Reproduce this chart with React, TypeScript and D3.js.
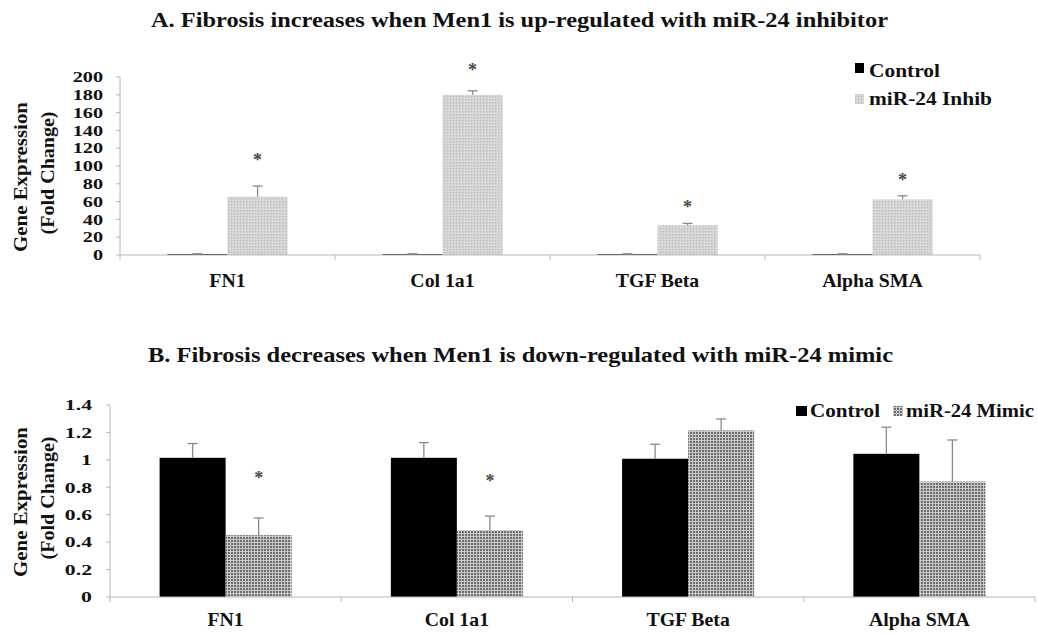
import React from "react";
import * as d3 from "d3";

// Genes measured in both experiments
const genes = ["FN1", "Col 1a1", "TGF Beta", "Alpha SMA"];

// Panel A: miR-24 inhibitor (fold change)
const inhibControl = [1, 1, 1, 1];
const inhibControlErr = [0.4, 0.4, 0.4, 0.4];
const inhibValues = [65.5, 180, 33.5, 62.5];
const inhibErr = [12, 4.5, 2, 4];
const inhibStarAt = [110, 211, 57, 88];
const inhibTicks = [0, 20, 40, 60, 80, 100, 120, 140, 160, 180, 200];

// Panel B: miR-24 mimic (fold change)
const mimicControl = [1.015, 1.015, 1.008, 1.044];
const mimicControlErr = [0.104, 0.111, 0.106, 0.194];
const mimicValues = [0.451, 0.487, 1.215, 0.842];
const mimicErr = [0.125, 0.103, 0.083, 0.303];
const mimicStarAt: (number | null)[] = [0.888, 0.871, null, null];
const mimicTicks = [0, 0.2, 0.4, 0.6, 0.8, 1, 1.2, 1.4];

const FONT = "Liberation Serif, Times New Roman, Times, DejaVu Serif, serif";
const AXIS = "#b8b8b8";
const ERR = "#8a8a8a";

type PanelProps = {
  title: string;
  titleY: number;
  titleSpan: [number, number];
  xRange: [number, number];
  yRange: [number, number];
  yMax: number;
  ticks: number[];
  tickX: number;
  tickStretch: number;
  control: number[];
  controlErr: number[];
  values: number[];
  err: number[];
  stars: (number | null)[];
  seriesFill: string;
  padInner: number;
  padOuter: number;
  labelX: [number, number];
  labelMid: number;
  catLabelY: number;
  legend: React.ReactNode;
};

function Panel(p: PanelProps) {
  const x = d3
    .scaleBand<string>()
    .domain(genes)
    .range(p.xRange)
    .paddingInner(p.padInner)
    .paddingOuter(p.padOuter);
  const sub = d3
    .scaleBand<string>()
    .domain(["control", "treated"])
    .range([0, x.bandwidth()]);
  const y = d3.scaleLinear().domain([0, p.yMax]).range(p.yRange);
  const step = x.step();
  const x0 = p.xRange[0];
  const bw = sub.bandwidth();

  const errBar = (cx: number, v: number, e: number, key: string) => (
    <g key={key} stroke={ERR} strokeWidth={1.3}>
      <line x1={cx} x2={cx} y1={y(v)} y2={y(v + e)} />
      <line x1={cx - 5} x2={cx + 5} y1={y(v + e)} y2={y(v + e)} />
    </g>
  );

  return (
    <g fontFamily={FONT} fontWeight="bold" fill="#111">
      <text
        x={p.titleSpan[0]}
        y={p.titleY}
        fontSize={22}
        textLength={p.titleSpan[1] - p.titleSpan[0]}
        lengthAdjust="spacingAndGlyphs"
      >
        {p.title}
      </text>

      {/* bars */}
      {genes.map((g, i) => {
        const bx = x(g)!;
        const cxC = bx + sub("control")! + bw / 2;
        const cxT = bx + sub("treated")! + bw / 2;
        return (
          <g key={g}>
            <rect
              x={bx + sub("control")!}
              y={y(p.control[i])}
              width={bw}
              height={y(0) - y(p.control[i])}
              fill="#000"
            />
            <rect
              x={bx + sub("treated")!}
              y={y(p.values[i])}
              width={bw}
              height={y(0) - y(p.values[i])}
              fill={p.seriesFill}
            />
            {errBar(cxC, p.control[i], p.controlErr[i], "ec")}
            {errBar(cxT, p.values[i], p.err[i], "et")}
            {p.stars[i] !== null && (
              <text
                x={cxT}
                y={y(p.stars[i] as number) + 9}
                textAnchor="middle"
                fontSize={18}
                fill="#444"
              >
                *
              </text>
            )}
          </g>
        );
      })}

      {/* axes */}
      <line x1={x0} x2={x0} y1={p.yRange[1]} y2={p.yRange[0]} stroke={AXIS} strokeWidth={1} />
      <line x1={x0} x2={p.xRange[1]} y1={y(0)} y2={y(0)} stroke={AXIS} strokeWidth={1.2} />
      {d3.range(genes.length + 1).map((k) => (
        <line
          key={k}
          x1={x0 + k * step}
          x2={x0 + k * step}
          y1={y(0)}
          y2={y(0) + 5}
          stroke={AXIS}
        />
      ))}
      {p.ticks.map((t) => (
        <g key={t}>
          <line x1={x0 - 4} x2={x0} y1={y(t)} y2={y(t)} stroke={AXIS} />
          <text
            transform={`translate(${p.tickX},${y(t)}) scale(${p.tickStretch},1)`}
            dy="0.35em"
            textAnchor="end"
            fontSize={15}
          >
            {String(t)}
          </text>
        </g>
      ))}
      {genes.map((g) => (
        <text
          key={g}
          transform={`translate(${x(g)! + x.bandwidth() / 2},${p.catLabelY}) scale(1.1,1)`}
          textAnchor="middle"
          fontSize={18}
        >
          {g}
        </text>
      ))}

      {/* y-axis title */}
      <text
        transform={`translate(${p.labelX[0]},${p.labelMid}) rotate(-90)`}
        textAnchor="middle"
        fontSize={18}
        textLength={150}
        lengthAdjust="spacingAndGlyphs"
      >
        Gene Expression
      </text>
      <text
        transform={`translate(${p.labelX[1]},${p.labelMid - 4}) rotate(-90)`}
        textAnchor="middle"
        fontSize={18}
        textLength={123}
        lengthAdjust="spacingAndGlyphs"
      >
        (Fold Change)
      </text>
      {p.legend}
    </g>
  );
}

export default function App() {
  return (
    <svg
      width={1037}
      height={634}
      viewBox="0 0 1037 634"
      style={{ position: "absolute", left: 0, top: 0, background: "#fff" }}
    >
      <defs>
        <pattern id="inhibTex" width={3} height={3} patternUnits="userSpaceOnUse">
          <rect width={3} height={3} fill="#d3d3d3" />
          <rect x={0} y={0} width={1} height={1} fill="#bdbdbd" />
          <rect x={2} y={2} width={1} height={1} fill="#e2e2e2" />
        </pattern>
        <pattern id="mimicTex" width={3} height={3} patternUnits="userSpaceOnUse">
          <rect width={3} height={3} fill="#c8c8c8" />
          <rect x={0} y={0} width={2} height={2} fill="#6e6e6e" />
        </pattern>
      </defs>
      <rect width={1037} height={634} fill="#fff" />

      <Panel
        title="A. Fibrosis increases when Men1 is up-regulated with miR-24 inhibitor"
        titleY={27}
        titleSpan={[151, 888]}
        xRange={[120, 980]}
        yRange={[255, 77]}
        yMax={200}
        ticks={inhibTicks}
        tickX={103}
        tickStretch={1.35}
        control={inhibControl}
        controlErr={inhibControlErr}
        values={inhibValues}
        err={inhibErr}
        stars={inhibStarAt}
        seriesFill="url(#inhibTex)"
        padInner={0.44}
        padOuter={0.22}
        labelX={[27, 54]}
        labelMid={177}
        catLabelY={287}
        legend={
          <g fontSize={18}>
            <rect x={855} y={63} width={9} height={10} fill="#000" />
            <text x={869} y={77} textLength={71} lengthAdjust="spacingAndGlyphs">Control</text>
            <rect x={855} y={94} width={9} height={10} fill="url(#inhibTex)" />
            <text x={869} y={105} textLength={123} lengthAdjust="spacingAndGlyphs">miR-24 Inhib</text>
          </g>
        }
      />

      <Panel
        title="B. Fibrosis decreases when Men1 is down-regulated with miR-24 mimic"
        titleY={362}
        titleSpan={[148, 893]}
        xRange={[110, 1035]}
        yRange={[597, 405]}
        yMax={1.4}
        ticks={mimicTicks}
        tickX={92}
        tickStretch={1.45}
        control={mimicControl}
        controlErr={mimicControlErr}
        values={mimicValues}
        err={mimicErr}
        stars={mimicStarAt}
        seriesFill="url(#mimicTex)"
        padInner={0.429}
        padOuter={0.2145}
        labelX={[27, 54]}
        labelMid={502}
        catLabelY={626}
        legend={
          <g fontSize={18}>
            <rect x={796} y={406} width={11} height={10} fill="#000" />
            <text x={810} y={417} textLength={70} lengthAdjust="spacingAndGlyphs">Control</text>
            <rect x={893} y={406} width={10} height={10} fill="url(#mimicTex)" />
            <text x={906} y={417} textLength={128} lengthAdjust="spacingAndGlyphs">miR-24 Mimic</text>
          </g>
        }
      />
    </svg>
  );
}
